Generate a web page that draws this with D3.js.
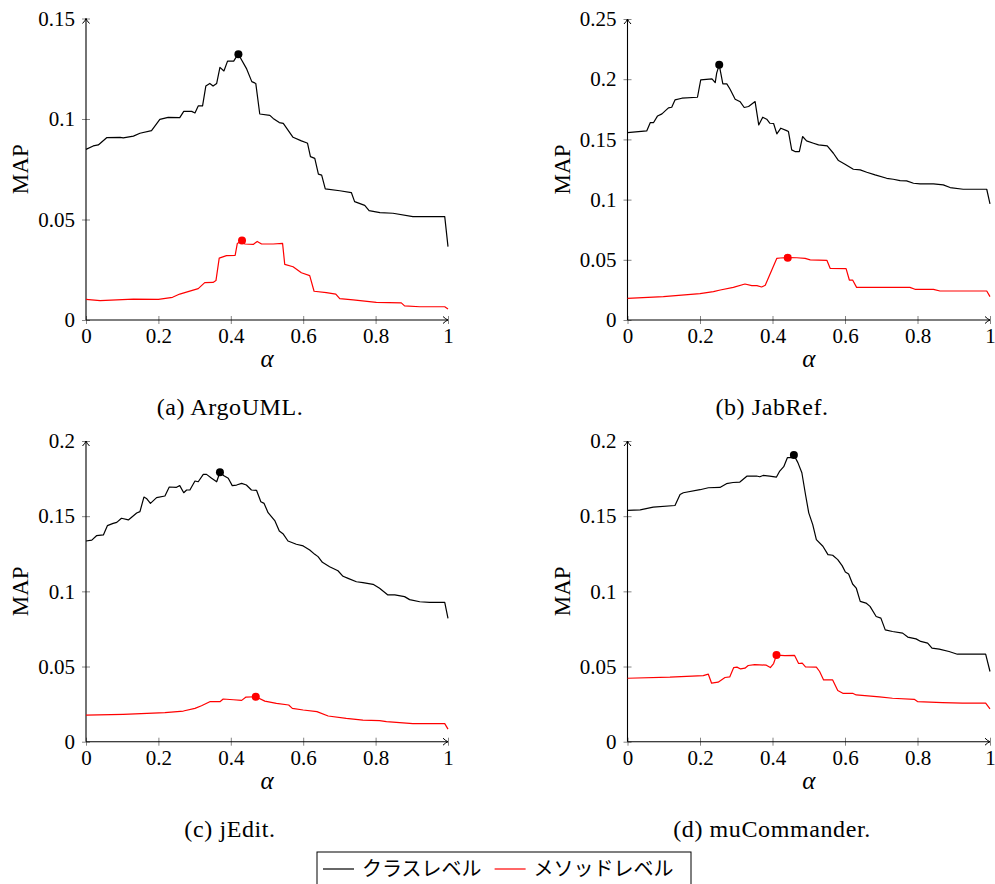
<!DOCTYPE html>
<html>
<head>
<meta charset="utf-8">
<script src="https://cdn.jsdelivr.net/npm/d3@7"></script>
<style>
  body { margin: 0; background: #fff; }
  text { font-family: "Liberation Serif", "DejaVu Serif", serif; fill: #000; }
</style>
</head>
<body>
<div id="chart"></div>
<script>
// values: [alpha, MAP]
const argoClass = [[0,0.0849],[0.020,0.0866],[0.034,0.0871],[0.057,0.0907],[0.094,0.0909],[0.103,0.0906],[0.131,0.0915],[0.149,0.0929],[0.181,0.0942],[0.204,0.0998],[0.227,0.1008],[0.259,0.1007],[0.270,0.1038],[0.292,0.1038],[0.301,0.1030],[0.310,0.1065],[0.322,0.1065],[0.331,0.1164],[0.342,0.1177],[0.351,0.1164],[0.361,0.1177],[0.370,0.1257],[0.381,0.1239],[0.391,0.1288],[0.408,0.1288],[0.414,0.1305],[0.421,0.1322],[0.443,0.1252],[0.458,0.1186],[0.469,0.1177],[0.480,0.1025],[0.508,0.1018],[0.517,0.1003],[0.534,0.0982],[0.545,0.0978],[0.572,0.0909],[0.595,0.0891],[0.609,0.0882],[0.612,0.0879],[0.620,0.0813],[0.632,0.0804],[0.642,0.0726],[0.651,0.0721],[0.661,0.0652],[0.701,0.0643],[0.733,0.0634],[0.742,0.0589],[0.770,0.0570],[0.782,0.0544],[0.812,0.0534],[0.848,0.0531],[0.903,0.0514],[0.991,0.0514],[1,0.0365]];
const argoMethod = [[0,0.0103],[0.039,0.0096],[0.131,0.0104],[0.200,0.0103],[0.239,0.0113],[0.259,0.0129],[0.282,0.0141],[0.310,0.0156],[0.328,0.0186],[0.351,0.0187],[0.359,0.0196],[0.368,0.0308],[0.388,0.0320],[0.412,0.0322],[0.418,0.0381],[0.431,0.0395],[0.439,0.0378],[0.462,0.0376],[0.473,0.0391],[0.485,0.0378],[0.517,0.0378],[0.543,0.0381],[0.549,0.0277],[0.572,0.0265],[0.595,0.0235],[0.618,0.0221],[0.630,0.0143],[0.664,0.0136],[0.690,0.0129],[0.701,0.0106],[0.738,0.0100],[0.802,0.0088],[0.871,0.0085],[0.880,0.0070],[0.922,0.0066],[0.991,0.0066],[1,0.0055]];

const jabClass = [[0,0.1557],[0.053,0.1570],[0.063,0.1640],[0.072,0.1640],[0.083,0.1695],[0.095,0.1712],[0.113,0.1762],[0.122,0.1767],[0.131,0.1828],[0.150,0.1842],[0.193,0.1850],[0.202,0.1994],[0.233,0.2003],[0.242,0.1972],[0.246,0.2050],[0.253,0.2119],[0.263,0.1961],[0.274,0.1961],[0.283,0.1917],[0.297,0.1834],[0.311,0.1812],[0.322,0.1765],[0.334,0.1773],[0.352,0.1814],[0.362,0.1620],[0.373,0.1684],[0.384,0.1668],[0.393,0.1634],[0.403,0.1632],[0.412,0.1546],[0.423,0.1593],[0.439,0.1573],[0.444,0.1565],[0.453,0.1413],[0.462,0.1399],[0.474,0.1399],[0.483,0.1524],[0.494,0.1488],[0.513,0.1468],[0.527,0.1454],[0.551,0.1446],[0.568,0.1385],[0.582,0.1324],[0.600,0.1294],[0.623,0.1252],[0.642,0.1247],[0.660,0.1227],[0.683,0.1205],[0.715,0.1177],[0.733,0.1169],[0.752,0.1158],[0.770,0.1155],[0.789,0.1136],[0.807,0.1130],[0.844,0.1130],[0.871,0.1122],[0.890,0.1100],[0.926,0.1086],[0.991,0.1086],[1,0.0964]];
const jabMethod = [[0,0.0180],[0.099,0.0194],[0.200,0.0219],[0.237,0.0235],[0.256,0.0249],[0.292,0.0271],[0.324,0.0299],[0.343,0.0285],[0.357,0.0285],[0.370,0.0274],[0.380,0.0288],[0.412,0.0512],[0.421,0.0515],[0.442,0.0518],[0.467,0.0517],[0.490,0.0512],[0.504,0.0499],[0.550,0.0496],[0.559,0.0429],[0.603,0.0427],[0.612,0.0332],[0.621,0.0332],[0.632,0.0271],[0.779,0.0271],[0.793,0.0255],[0.844,0.0255],[0.862,0.0241],[0.991,0.0241],[1,0.0194]];

const jeditClass = [[0,0.1335],[0.016,0.1341],[0.029,0.1370],[0.048,0.1375],[0.059,0.1437],[0.075,0.1452],[0.085,0.1459],[0.098,0.1486],[0.117,0.1475],[0.140,0.1521],[0.149,0.1530],[0.160,0.1627],[0.167,0.1618],[0.178,0.1585],[0.195,0.1623],[0.218,0.1634],[0.230,0.1694],[0.250,0.1692],[0.259,0.1703],[0.270,0.1656],[0.278,0.1674],[0.287,0.1674],[0.301,0.1734],[0.310,0.1729],[0.324,0.1778],[0.333,0.1778],[0.347,0.1752],[0.361,0.1729],[0.370,0.1792],[0.381,0.1769],[0.393,0.1752],[0.404,0.1703],[0.416,0.1707],[0.430,0.1718],[0.443,0.1707],[0.457,0.1674],[0.471,0.1672],[0.483,0.1596],[0.492,0.1585],[0.503,0.1523],[0.522,0.1468],[0.534,0.1401],[0.545,0.1381],[0.558,0.1335],[0.581,0.1313],[0.600,0.1302],[0.618,0.1275],[0.632,0.1246],[0.641,0.1231],[0.653,0.1193],[0.673,0.1164],[0.696,0.1137],[0.710,0.1100],[0.724,0.1086],[0.747,0.1064],[0.765,0.1058],[0.793,0.1047],[0.811,0.1020],[0.834,0.0976],[0.853,0.0976],[0.880,0.0965],[0.894,0.0945],[0.922,0.0931],[0.949,0.0927],[0.991,0.0927],[1,0.0820]];
const jeditMethod = [[0,0.0177],[0.103,0.0182],[0.218,0.0193],[0.269,0.0204],[0.301,0.0222],[0.319,0.0239],[0.342,0.0266],[0.370,0.0266],[0.379,0.0284],[0.407,0.0279],[0.430,0.0275],[0.442,0.0297],[0.469,0.0299],[0.494,0.0270],[0.526,0.0255],[0.560,0.0244],[0.570,0.0222],[0.600,0.0211],[0.638,0.0200],[0.669,0.0171],[0.719,0.0155],[0.765,0.0144],[0.811,0.0140],[0.830,0.0133],[0.903,0.0120],[0.991,0.0120],[1,0.0084]];

const muClass = [[0,0.1538],[0.035,0.1542],[0.071,0.1560],[0.131,0.1571],[0.145,0.1644],[0.154,0.1656],[0.200,0.1676],[0.223,0.1689],[0.255,0.1691],[0.273,0.1716],[0.291,0.1724],[0.310,0.1727],[0.330,0.1767],[0.356,0.1767],[0.365,0.1762],[0.374,0.1771],[0.392,0.1767],[0.411,0.1760],[0.420,0.1800],[0.431,0.1829],[0.441,0.1889],[0.452,0.1889],[0.459,0.1907],[0.470,0.1856],[0.481,0.1789],[0.491,0.1644],[0.500,0.1522],[0.511,0.1444],[0.521,0.1344],[0.539,0.1300],[0.553,0.1244],[0.566,0.1240],[0.580,0.1211],[0.592,0.1171],[0.601,0.1129],[0.610,0.1116],[0.621,0.1049],[0.631,0.1022],[0.642,0.0933],[0.658,0.0922],[0.669,0.0900],[0.686,0.0833],[0.699,0.0822],[0.711,0.0744],[0.731,0.0733],[0.759,0.0722],[0.773,0.0696],[0.796,0.0684],[0.809,0.0667],[0.828,0.0656],[0.840,0.0622],[0.860,0.0616],[0.887,0.0600],[0.910,0.0582],[0.988,0.0582],[1,0.0467]];
const muMethod = [[0,0.0422],[0.117,0.0429],[0.209,0.0440],[0.223,0.0449],[0.232,0.0389],[0.250,0.0396],[0.269,0.0427],[0.282,0.0431],[0.293,0.0493],[0.302,0.0496],[0.312,0.0484],[0.324,0.0489],[0.333,0.0507],[0.351,0.0513],[0.383,0.0509],[0.394,0.0493],[0.403,0.0520],[0.411,0.0576],[0.434,0.0573],[0.461,0.0574],[0.472,0.0520],[0.482,0.0522],[0.491,0.0498],[0.521,0.0496],[0.530,0.0467],[0.541,0.0411],[0.566,0.0411],[0.580,0.0340],[0.594,0.0322],[0.621,0.0322],[0.631,0.0311],[0.695,0.0298],[0.731,0.0289],[0.791,0.0282],[0.800,0.0267],[0.869,0.0260],[0.924,0.0256],[0.988,0.0256],[1,0.0218]];

const captions = ["(a) ArgoUML.", "(b) JabRef.", "(c) jEdit.", "(d) muCommander."];
const yTickSets = [
    [0, 0.05, 0.1, 0.15],
    [0, 0.05, 0.1, 0.15, 0.2, 0.25],
    [0, 0.05, 0.1, 0.15, 0.2],
    [0, 0.05, 0.1, 0.15, 0.2]
];
const xTicks = [0, 0.2, 0.4, 0.6, 0.8, 1];
const legendLabels = ["クラスレベル", "メソッドレベル"];
const seriesColors = ["#000", "#f00"];

const panels = [
    {cls: argoClass, mth: argoMethod, yt: yTickSets[0], cap: captions[0], left: 86, right: 448, top: 18.5, bottom: 320, capX: 230},
    {cls: jabClass, mth: jabMethod, yt: yTickSets[1], cap: captions[1], left: 627.5, right: 990, top: 19, bottom: 320, capX: 772},
    {cls: jeditClass, mth: jeditMethod, yt: yTickSets[2], cap: captions[2], left: 86, right: 448, top: 441, bottom: 741.7, capX: 230},
    {cls: muClass, mth: muMethod, yt: yTickSets[3], cap: captions[3], left: 627.5, right: 990, top: 441, bottom: 741.7, capX: 772}
];

const svg = d3.select("#chart")
    .append("svg")
    .attr("width", 995)
    .attr("height", 884);

const fmt = d => String(+d.toFixed(2));

panels.forEach(p => {
    const x = d3.scaleLinear().domain([0, 1]).range([p.left, p.right]);
    const y = d3.scaleLinear().domain([0, d3.max(p.yt)]).range([p.bottom, p.top]);
    const g = svg.append("g");

    // y axis
    const ya = g.append("g")
        .attr("transform", `translate(${p.left},0)`)
        .call(d3.axisLeft(y).tickValues(p.yt).tickFormat(fmt).tickSizeInner(4).tickSizeOuter(0).tickPadding(7));
    ya.select(".domain").remove();
    ya.selectAll(".tick line").attr("x1", 4).attr("stroke", "#666").attr("stroke-width", 0.8);
    ya.selectAll(".tick text").style("font-size", "21px").style("font-family", "Liberation Serif");

    // x axis
    const xa = g.append("g")
        .attr("transform", `translate(0,${p.bottom})`)
        .call(d3.axisBottom(x).tickValues(xTicks).tickFormat(fmt).tickSizeInner(4).tickSizeOuter(0).tickPadding(4));
    xa.select(".domain").remove();
    xa.selectAll(".tick line").attr("y1", -4).attr("stroke", "#666").attr("stroke-width", 0.8);
    xa.selectAll(".tick text").style("font-size", "21px").style("font-family", "Liberation Serif");

    // axis lines with arrow tips
    g.append("line")
        .attr("x1", p.left).attr("x2", p.right)
        .attr("y1", p.bottom).attr("y2", p.bottom)
        .attr("stroke", "#000").attr("stroke-width", 1.1);
    g.append("line")
        .attr("x1", p.left).attr("x2", p.left)
        .attr("y1", p.bottom).attr("y2", p.top)
        .attr("stroke", "#000").attr("stroke-width", 1.1);
    g.append("path")
        .attr("d", `M${p.right - 5},${p.bottom - 3.5} Q${p.right - 2},${p.bottom - 0.6} ${p.right},${p.bottom} Q${p.right - 2},${p.bottom + 0.6} ${p.right - 5},${p.bottom + 3.5}`)
        .attr("fill", "none").attr("stroke", "#000").attr("stroke-width", 1);
    g.append("path")
        .attr("d", `M${p.left - 3.5},${p.top + 5} Q${p.left - 0.6},${p.top + 2} ${p.left},${p.top} Q${p.left + 0.6},${p.top + 2} ${p.left + 3.5},${p.top + 5}`)
        .attr("fill", "none").attr("stroke", "#000").attr("stroke-width", 1);

    // curves + best points
    const line = d3.line().x(d => x(d[0])).y(d => y(d[1]));
    [p.cls, p.mth].forEach((s, i) => {
        g.append("path")
            .datum(s)
            .attr("d", line)
            .attr("fill", "none")
            .attr("stroke", seriesColors[i])
            .attr("stroke-width", 1.2)
            .attr("stroke-linejoin", "round");
        const best = d3.greatest(s, d => d[1]);
        g.append("circle")
            .attr("cx", x(best[0]))
            .attr("cy", y(best[1]))
            .attr("r", 4)
            .attr("fill", seriesColors[i]);
    });

    // labels
    g.append("text")
        .attr("transform", `translate(${p.left - 66},${(p.top + p.bottom) / 2}) rotate(-90)`)
        .attr("text-anchor", "middle")
        .attr("dy", "0.35em")
        .style("font-size", "23px")
        .text("MAP");
    g.append("text")
        .attr("x", (p.left + p.right) / 2)
        .attr("y", p.bottom + 47)
        .attr("text-anchor", "middle")
        .style("font-size", "25px")
        .style("font-style", "italic")
        .text("α");
    g.append("text")
        .attr("x", p.capX)
        .attr("y", p.bottom + 95)
        .attr("text-anchor", "middle")
        .style("font-size", "24px")
        .style("letter-spacing", "0.6px")
        .text(p.cap);
});

// legend
const leg = svg.append("g");
leg.append("rect")
    .attr("x", 317).attr("y", 852)
    .attr("width", 374).attr("height", 60)
    .attr("fill", "#fff").attr("stroke", "#000").attr("stroke-width", 1);
let lx = 323;
legendLabels.forEach((lab, i) => {
    leg.append("line")
        .attr("x1", lx).attr("x2", lx + 31)
        .attr("y1", 869).attr("y2", 869)
        .attr("stroke", seriesColors[i]).attr("stroke-width", 1.2);
    const t = leg.append("text")
        .attr("x", lx + 39)
        .attr("y", 869)
        .attr("dy", "0.35em")
        .style("font-family", "Noto Sans CJK JP")
        .style("font-size", "20px")
        .text(lab);
    lx += 39 + t.node().getComputedTextLength() + 13;
});
</script>
</body>
</html>
